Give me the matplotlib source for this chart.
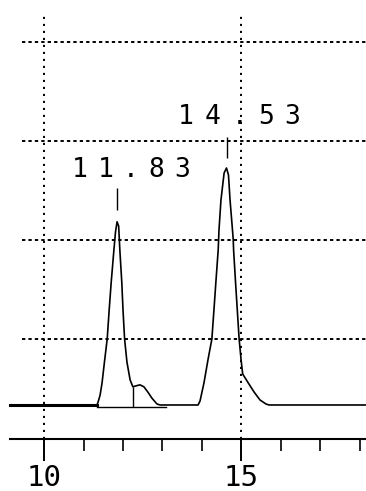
# coding=utf-8
# chromatogram trace with two labelled peaks (11.83 and 14.53 min)

import matplotlib
matplotlib.use('Agg')
import matplotlib.pyplot as plt
from matplotlib.ticker import FixedLocator

# retention time (min) / detector signal
t_base_left = [9.14, 11.34]
s_base_left = [0.0, 0.0]

t_peak1 = [11.34, 11.37, 11.42, 11.47, 11.53, 11.60, 11.65, 11.70, 11.77, 11.81,
           11.85, 11.89, 11.92, 11.97, 12.00, 12.04, 12.10, 12.18, 12.25, 12.33,
           12.43, 12.53, 12.63, 12.73, 12.86, 12.94]
s_peak1 = [0.0, 0.9, 3.0, 6.7, 13.0, 20.0, 28.8, 37.0, 47.0, 52.4,
           55.5, 54.2, 47.0, 37.0, 28.8, 20.0, 13.0, 7.6, 5.5, 5.8,
           6.1, 5.5, 3.9, 2.1, 0.3, 0.0]

t_peak2 = [13.90, 13.95, 14.05, 14.15, 14.25, 14.32, 14.35, 14.41, 14.43, 14.48,
           14.56, 14.62, 14.67, 14.71, 14.79, 14.80, 14.85, 14.94, 14.99, 15.03,
           15.17, 15.32, 15.47, 15.62, 15.70]
s_peak2 = [0.0, 1.2, 6.7, 13.6, 20.0, 31.8, 37.0, 47.0, 53.0, 62.1,
           70.3, 71.8, 69.7, 62.1, 50.3, 47.0, 37.0, 20.0, 13.6, 9.4,
           6.7, 3.9, 1.5, 0.3, 0.0]

t_end = 18.2

# integration marks
t_drop = 12.25
s_drop = 5.5
t_intbase = [11.34, 13.09]

# peak labels
peak_rt = ["11.83", "14.53"]
peak_mark_t = [11.85, 14.64]
peak_mark_s = [(59.1, 65.8), (74.8, 81.2)]

# axis
grid_t = [10, 15]
grid_s = [20, 50, 80, 110]
major_ticks = [10, 15]
minor_ticks = [11, 12, 13, 14, 16, 17, 18]

fig = plt.figure(figsize=(3.66, 4.91), dpi=100)
ax = fig.add_axes([0, 0, 1, 1])
ax.set_xlim(8.886, 18.152)
ax.set_ylim(-26.06, 122.7)

for y in grid_s:
    ax.hlines(y, 9.44, t_end, color='black', lw=1.4, linestyle=(0, (1.7, 1.6)))
for x in grid_t:
    ax.vlines(x, -10.3, 118.2, color='black', lw=1.4, linestyle=(0, (1.1, 2.5)))

# trace
tt = t_base_left + t_peak1 + t_peak2 + [t_end]
ss = s_base_left + s_peak1 + s_peak2 + [0.0]
ax.plot(tt, ss, color='black', lw=1.2)
ax.plot(t_base_left, s_base_left, color='black', lw=2.2)
ax.plot(t_intbase, [-0.6, -0.6], color='black', lw=1.0)
ax.vlines(t_drop, -0.6, s_drop, color='black', lw=1.0)

# peak markers and labels (printer style, wide character cells)
label_x0 = [10.91, 13.60]
label_y = [71.2, 87.3]
step = [0.646, 0.671]
for i, rt in enumerate(peak_rt):
    ax.vlines(peak_mark_t[i], peak_mark_s[i][0], peak_mark_s[i][1], color='black', lw=1.0)
    for k, ch in enumerate(rt):
        ax.text(label_x0[i] + k * step[i], label_y[i], ch, ha='center', va='center',
                fontsize=19, family='DejaVu Sans Mono', color='black')

# bottom time axis
for side in ['left', 'right', 'top']:
    ax.spines[side].set_visible(False)
ax.spines['bottom'].set_position(('data', -10.3))
ax.spines['bottom'].set_bounds(9.14, t_end)
ax.spines['bottom'].set_linewidth(1.5)
ax.xaxis.set_major_locator(FixedLocator(major_ticks))
ax.xaxis.set_minor_locator(FixedLocator(minor_ticks))
ax.tick_params(axis='x', which='major', direction='out', length=16, width=1.4, pad=2,
               labelsize=21)
ax.tick_params(axis='x', which='minor', direction='out', length=8.5, width=1.2)
ax.set_xticklabels([str(v) for v in major_ticks], family='DejaVu Sans Mono')
ax.set_yticks([])

fig.savefig('out.png', dpi=100, facecolor='white')
